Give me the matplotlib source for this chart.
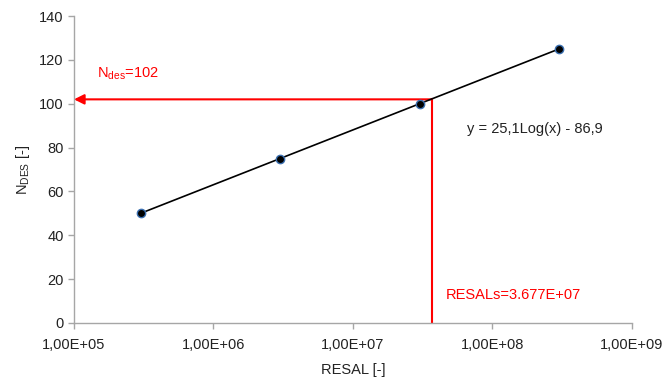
import matplotlib
matplotlib.use("Agg")
import matplotlib.pyplot as plt
from matplotlib.ticker import FixedLocator, FixedFormatter, NullLocator
import numpy as np

plt.rcParams['font.family'] = ['Liberation Sans', 'DejaVu Sans']
plt.rcParams['mathtext.fontset'] = 'custom'
plt.rcParams['mathtext.rm'] = 'Liberation Sans'
plt.rcParams['mathtext.it'] = 'Liberation Sans'

# Data
resal = [3e5, 3e6, 3e7, 3e8]
ndes = [50, 75, 100, 125]
x_ticks = [1e5, 1e6, 1e7, 1e8, 1e9]
x_tick_labels = ["1,00E+05", "1,00E+06", "1,00E+07", "1,00E+08", "1,00E+09"]
y_ticks = [0, 20, 40, 60, 80, 100, 120, 140]
resal_design = 3.677e7
ndes_design = 102
equation = "y = 25,1Log(x) - 86,9"

fig = plt.figure(figsize=(6.64, 3.82), dpi=100)
ax = fig.add_axes([0.1114, 0.1545, 0.8404, 0.8035])

gray = '#a6a6a6'
fs = 10.5
ax.set_xscale('log')
ax.set_xlim(1e5, 1e9)
ax.set_ylim(0, 140)

ax.plot(resal, ndes, color='black', lw=1.2, zorder=3)
ax.plot(resal, ndes, 'o', color='black', markeredgecolor='#3a6fb0', markersize=6,
        markeredgewidth=1.0, zorder=4, clip_on=False)

# red design lines
ax.plot([resal_design, resal_design], [0, ndes_design], color='red', lw=1.5, zorder=2)
ax.annotate('', xy=(1e5, ndes_design), xytext=(resal_design, ndes_design),
            arrowprops=dict(arrowstyle='-|>', color='red', lw=1.5, mutation_scale=15,
                            shrinkA=0, shrinkB=0), zorder=2)

ax.text(0.041, 0.811, r'N$_{\mathrm{des}}$=102', transform=ax.transAxes, color='red',
        fontsize=fs, va='center', ha='left')
ax.text(10**7.817, 88.5, equation, color='#222222', fontsize=fs, va='center', ha='left')
ax.text(10**7.665, 12.8, 'RESALs=3.677E+07', color='red', fontsize=fs, va='center', ha='left')

ax.xaxis.set_major_locator(FixedLocator(x_ticks))
ax.xaxis.set_major_formatter(FixedFormatter(x_tick_labels))
ax.xaxis.set_minor_locator(NullLocator())
ax.set_yticks(y_ticks)

for s in ['top', 'right']:
    ax.spines[s].set_visible(False)
for s in ['left', 'bottom']:
    ax.spines[s].set_color(gray)
    ax.spines[s].set_linewidth(1.0)
ax.tick_params(axis='both', colors=gray, labelcolor='#222222', labelsize=fs,
               length=4, width=1.0, direction='out')
ax.tick_params(axis='x', pad=7)

ax.set_xlabel('RESAL [-]', fontsize=fs, color='#222222', labelpad=8)
ax.set_ylabel(r'N$_{\mathrm{DES}}$ [-]', fontsize=fs, color='#222222', labelpad=5)

fig.savefig('out.png', dpi=100)
